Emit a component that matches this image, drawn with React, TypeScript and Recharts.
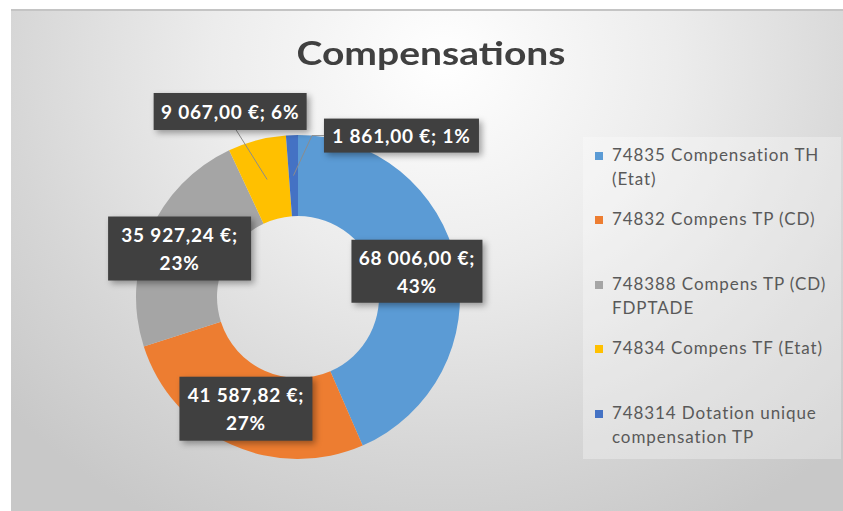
import React from 'react'
import { PieChart, Pie, Cell, Legend } from 'recharts'

const categories = [
  '74835 Compensation TH\n(Etat)',
  '74832 Compens TP (CD)',
  '748388 Compens TP (CD)\nFDPTADE',
  '74834 Compens TF (Etat)',
  '748314 Dotation unique\ncompensation TP'
]
const amounts = [68006, 41587.82, 35927.24, 9067, 1861]
const colors = ['#5B9BD5', '#ED7D31', '#A5A5A5', '#FFC000', '#4472C4']

const data = categories.map((name, i) => ({ name, value: amounts[i] }))

// label placement: offset from the middle of the ring, box size, one or two lines
const labelLayout = [
  { dx: 0, dy: -1, w: 131, h: 63, split: true, leader: false },
  { dx: -2, dy: 1, w: 133, h: 64, split: true, leader: false },
  { dx: -7, dy: 0, w: 143, h: 64, split: true, leader: false },
  { dx: -37, dy: -68, w: 153, h: 37, split: false, leader: true },
  { dx: 108, dy: -40, w: 155, h: 34, split: false, leader: true }
]

const FONT = 'Lato, "Open Sans", sans-serif'
const RADIAN = Math.PI / 180

if (typeof document !== 'undefined') document.body.style.margin = '0'

// 68006 -> "68 006,00 €"
function formatEuro(v: number) {
  const [int, dec] = v.toFixed(2).split('.')
  const grouped = int.replace(/\B(?=(\d{3})+(?!\d))/g, ' ')
  return `${grouped},${dec} €`
}

function renderLabel(props: any) {
  const { cx, cy, midAngle, innerRadius, outerRadius, index, percent, value } = props
  const lay = labelLayout[index]
  const r = (innerRadius + outerRadius) / 2
  const ax = cx + r * Math.cos(-midAngle * RADIAN)
  const ay = cy + r * Math.sin(-midAngle * RADIAN)
  const bx = ax + lay.dx
  const by = ay + lay.dy
  const pct = `${Math.round(percent * 100)}%`
  const money = formatEuro(value)
  const lines = lay.split ? [`${money};`, pct] : [`${money}; ${pct}`]

  let leader = null
  if (lay.leader) {
    if (lay.dx < 0) {
      leader = <line x1={ax} y1={ay} x2={bx + 6} y2={by + lay.h / 2} stroke="#8c8c8c" strokeWidth={1} />
    } else {
      const left = bx - lay.w / 2
      leader = (
        <polyline
          points={`${ax},${ay} ${left - 12},${by} ${left},${by}`}
          fill="none"
          stroke="#8c8c8c"
          strokeWidth={1}
        />
      )
    }
  }

  return (
    <g key={`lbl-${index}`}>
      {leader}
      <rect
        x={bx - lay.w / 2}
        y={by - lay.h / 2}
        width={lay.w}
        height={lay.h}
        fill="#404040"
        style={{ filter: 'drop-shadow(3px 3px 3px rgba(0,0,0,0.35))' }}
      />
      {lines.map((t, i) => (
        <text
          key={i}
          x={bx}
          y={by + (i - (lines.length - 1) / 2) * 28}
          textAnchor="middle"
          dominantBaseline="central"
          fill="#ffffff"
          fontFamily={FONT}
          fontWeight={700}
          fontSize={19}
          letterSpacing={0.8}
        >
          {t}
        </text>
      ))}
    </g>
  )
}

function renderLegend() {
  return (
    <div
      style={{
        width: '100%',
        height: '100%',
        background: 'rgba(255,255,255,0.3)',
        boxSizing: 'border-box',
        paddingLeft: 12,
        fontFamily: FONT,
        fontSize: 17,
        color: '#595959'
      }}
    >
      {categories.map((name, i) => (
        <div key={name} style={{ height: 64.4, display: 'flex', alignItems: 'flex-start', paddingTop: 6, boxSizing: 'border-box' }}>
          <span style={{ width: 8, height: 8, background: colors[i], marginTop: 9, marginRight: 9, flexShrink: 0 }} />
          <span style={{ whiteSpace: 'pre-line', lineHeight: '24px', letterSpacing: 0.9 }}>{name}</span>
        </div>
      ))}
    </div>
  )
}

export default function App() {
  return (
    <div style={{ position: 'relative', width: 843, height: 511, background: '#ffffff', overflow: 'hidden' }}>
      <div
        style={{
          position: 'absolute',
          left: 11,
          top: 9,
          width: 832,
          height: 502,
          borderTop: '2px solid #c4c4c4',
          boxSizing: 'border-box',
          background:
            'radial-gradient(ellipse 70% 105% at 52% 10%, #ffffff 0%, #ececec 40%, #d6d6d6 75%, #c8c8c8 100%)'
        }}
      />
      <div
        style={{
          position: 'absolute',
          left: 15,
          width: 832,
          top: 33,
          textAlign: 'center',
          fontFamily: FONT,
          fontWeight: 700,
          fontSize: 32,
          color: '#404040',
          transform: 'scaleX(1.22)',
          transformOrigin: '50% 50%'
        }}
      >
        Compensations
      </div>
      <div style={{ position: 'absolute', left: 0, top: 0 }}>
        <PieChart width={843} height={511} margin={{ top: 0, right: 0, bottom: 0, left: 0 }}>
          <Pie
            data={data}
            dataKey="value"
            nameKey="name"
            cx={298}
            cy={297}
            innerRadius={81}
            outerRadius={162}
            startAngle={90}
            endAngle={-270}
            stroke="none"
            label={renderLabel}
            labelLine={false}
            isAnimationActive={false}
          >
            {data.map((d, i) => (
              <Cell key={d.name} fill={colors[i]} />
            ))}
          </Pie>
          <Legend
            content={renderLegend}
            layout="vertical"
            align="right"
            verticalAlign="top"
            wrapperStyle={{ position: 'absolute', left: 583, top: 137, width: 258, height: 322 }}
          />
        </PieChart>
      </div>
    </div>
  )
}
